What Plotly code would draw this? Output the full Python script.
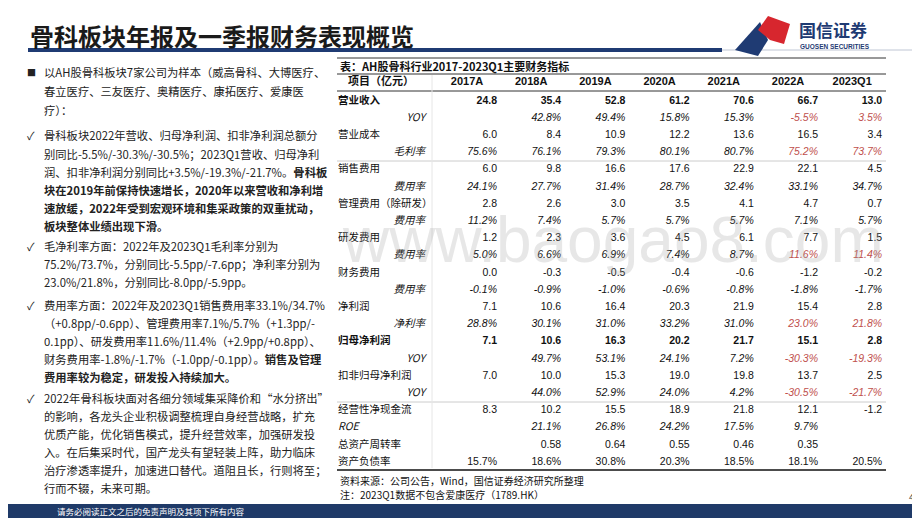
import plotly.graph_objects as go

W, H = 920, 518
OFF = 8  # the page body margin of the html file
FONT = "Liberation Sans, Arial, Noto Sans CJK SC"
CJK = "Noto Sans CJK SC, Liberation Sans"
RED = "#c0504d"
NAVY = "#1f3b73"

# table data
years = ["2017A", "2018A", "2019A", "2020A", "2021A", "2022A", "2023Q1"]
row_labels = ["营业收入", "YOY", "营业成本", "毛利率", "销售费用", "费用率", "管理费用（除研发）", "费用率",
              "研发费用", "费用率", "财务费用", "费用率", "净利润", "净利率", "归母净利润", "YOY",
              "扣非归母净利润", "YOY", "经营性净现金流", "ROE", "总资产周转率", "资产负债率"]
row_values = [
    ["24.8", "35.4", "52.8", "61.2", "70.6", "66.7", "13.0"],
    ["", "42.8%", "49.4%", "15.8%", "15.3%", "-5.5%", "3.5%"],
    ["6.0", "8.4", "10.9", "12.2", "13.6", "16.5", "3.4"],
    ["75.6%", "76.1%", "79.3%", "80.1%", "80.7%", "75.2%", "73.7%"],
    ["6.0", "9.8", "16.6", "17.6", "22.9", "22.1", "4.5"],
    ["24.1%", "27.7%", "31.4%", "28.7%", "32.4%", "33.1%", "34.7%"],
    ["2.8", "2.6", "3.0", "3.5", "4.1", "4.7", "0.7"],
    ["11.2%", "7.4%", "5.7%", "5.7%", "5.7%", "7.1%", "5.7%"],
    ["1.2", "2.3", "3.6", "4.5", "6.1", "7.7", "1.5"],
    ["5.0%", "6.6%", "6.9%", "7.4%", "8.7%", "11.6%", "11.4%"],
    ["0.0", "-0.3", "-0.5", "-0.4", "-0.6", "-1.2", "-0.2"],
    ["-0.1%", "-0.9%", "-1.0%", "-0.6%", "-0.8%", "-1.8%", "-1.7%"],
    ["7.1", "10.6", "16.4", "20.3", "21.9", "15.4", "2.8"],
    ["28.8%", "30.1%", "31.0%", "33.2%", "31.0%", "23.0%", "21.8%"],
    ["7.1", "10.6", "16.3", "20.2", "21.7", "15.1", "2.8"],
    ["", "49.7%", "53.1%", "24.1%", "7.2%", "-30.3%", "-19.3%"],
    ["7.0", "10.0", "15.3", "19.0", "19.8", "13.7", "2.5"],
    ["", "44.0%", "52.9%", "24.0%", "4.2%", "-30.5%", "-21.7%"],
    ["8.3", "10.2", "15.5", "18.9", "21.8", "12.1", "-1.2"],
    ["", "21.1%", "26.8%", "24.2%", "17.5%", "9.7%", ""],
    ["", "0.58", "0.64", "0.55", "0.46", "0.35", ""],
    ["15.7%", "18.6%", "30.8%", "20.3%", "18.5%", "18.1%", "20.5%"],
]
bold_rows = [0, 14]
sub_rows = [1, 3, 5, 7, 9, 11, 13, 15, 17]
red_rows = [1, 3, 9, 13, 15, 17]
italic_rows = sub_rows + [19]

# left text lines: (y pixel, text, bullet)
left_lines = [
    (72, "以AH股骨科板块7家公司为样本（威高骨科、大博医疗、", "■"),
    (91, "春立医疗、三友医疗、奥精医疗、康拓医疗、爱康医", ""),
    (110, "疗）：", ""),
    (135, "骨科板块2022年营收、归母净利润、扣非净利润总额分", "✓"),
    (154, "别同比-5.5%/-30.3%/-30.5%；2023Q1营收、归母净利", ""),
    (172, "润、扣非净利润分别同比+3.5%/-19.3%/-21.7%。<b>骨科板</b>", ""),
    (190, "<b>块在2019年前保持快速增长，2020年以来营收和净利增</b>", ""),
    (208, "<b>速放缓，2022年受到宏观环境和集采政策的双重扰动，</b>", ""),
    (226, "<b>板块整体业绩出现下滑。</b>", ""),
    (246, "毛净利率方面：2022年及2023Q1毛利率分别为", "✓"),
    (264, "75.2%/73.7%，分别同比-5.5pp/-7.6pp；净利率分别为", ""),
    (282, "23.0%/21.8%，分别同比-8.0pp/-5.9pp。", ""),
    (305, "费用率方面：2022年及2023Q1销售费用率33.1%/34.7%", "✓"),
    (323, "（+0.8pp/-0.6pp）、管理费用率7.1%/5.7%（+1.3pp/-", ""),
    (341, "0.1pp）、研发费用率11.6%/11.4%（+2.9pp/+0.8pp）、", ""),
    (359, "财务费用率-1.8%/-1.7%（-1.0pp/-0.1pp）。<b>销售及管理</b>", ""),
    (377, "<b>费用率较为稳定，研发投入持续加大。</b>", ""),
    (398, "2022年骨科板块面对各细分领域集采降价和“水分挤出”", "✓"),
    (416, "的影响，各龙头企业积极调整梳理自身经营战略，扩充", ""),
    (434, "优质产能，优化销售模式，提升经营效率，加强研发投", ""),
    (452, "入。在后集采时代，国产龙头有望轻装上阵，助力临床", ""),
    (470, "治疗渗透率提升，加速进口替代。道阻且长，行则将至；", ""),
    (488, "行而不辍，未来可期。", ""),
]

FW, FH = W - OFF, H - OFF


def px(x):
    return (x - OFF) / FW


def py(y):
    return 1 - (y - OFF) / FH


# table geometry (axis units = pixels from table left edge 337)
T_LEFT, T_RIGHT = 337, 912
TABLE_END = 886
ROW0, ROW_H = 101, 17.2
Y_TOP, Y_BOT = 60, 484
LABEL_RIGHT = 88
col_right = [160 + 64.2 * j for j in range(len(years))]


def wrap(v, i):
    if not v:
        return v
    if i in bold_rows:
        return "<b>" + v + "</b>"
    if i in italic_rows:
        return "<i>" + v + "</i>"
    return v


fig = go.Figure()
# header
fig.add_trace(go.Scatter(
    x=[c - 30 for c in col_right], y=[-1.1] * len(years), mode="text",
    text=["<b>" + y + "</b>" for y in years], textposition="middle center",
    textfont=dict(family=FONT, size=11, color="#111111"), hoverinfo="skip"))
fig.add_trace(go.Scatter(
    x=[44], y=[-1.1], mode="text", text=["<b>项目（亿元）</b>"], textposition="middle center",
    textfont=dict(family=CJK, size=11, color="#111111"), hoverinfo="skip"))
# row labels
main_idx = [i for i in range(len(row_labels)) if i not in sub_rows]
fig.add_trace(go.Scatter(
    x=[1] * len(main_idx), y=main_idx, mode="text",
    text=[wrap(row_labels[i], i) for i in main_idx], textposition="middle right",
    textfont=dict(family=CJK, size=10.5, color="#111111"), hoverinfo="skip"))
fig.add_trace(go.Scatter(
    x=[LABEL_RIGHT] * len(sub_rows), y=sub_rows, mode="text",
    text=[wrap(row_labels[i], i) for i in sub_rows], textposition="middle left",
    textfont=dict(family=CJK, size=10.5, color="#111111"), hoverinfo="skip"))
# values
for j in range(len(years)):
    rows = list(range(len(row_values)))
    fig.add_trace(go.Scatter(
        x=[col_right[j]] * len(rows), y=rows, mode="text",
        text=[wrap(row_values[i][j], i) for i in rows], textposition="middle left",
        textfont=dict(family=FONT, size=10.5,
                      color=[RED if (i in red_rows and j >= 5) else "#111111" for i in rows]),
        hoverinfo="skip"))

y_lo = (Y_TOP - ROW0) / ROW_H
y_hi = (Y_BOT - ROW0) / ROW_H
fig.update_xaxes(range=[0, T_RIGHT - T_LEFT], domain=[px(T_LEFT), px(T_RIGHT)], visible=False)
fig.update_yaxes(range=[y_hi, y_lo], domain=[py(Y_BOT), py(Y_TOP)], visible=False)


def hline(y, x0, x1, color, width):
    return dict(type="line", xref="paper", yref="paper", x0=px(x0), x1=px(x1), y0=py(y), y1=py(y),
                line=dict(color=color, width=width))


shapes = [
    hline(50, 28, 722, NAVY, 4),
    hline(50, 722, 912, "#bfc6d4", 1),
    dict(type="rect", xref="paper", yref="paper", x0=0, x1=1, y0=0, y1=py(504),
         fillcolor="#1f3a68", line=dict(width=0)),
    hline(58, 337, TABLE_END, "#333333", 1),
    hline(74, 337, TABLE_END, "#333333", 1),
    hline(91, 337, TABLE_END, "#333333", 1),
    hline(161, 337, TABLE_END, "#cccccc", 1),
    hline(402, 337, TABLE_END, "#cccccc", 1),
    dict(type="line", xref="paper", yref="paper", x0=px(432), x1=px(432), y0=py(75), y1=py(468),
         line=dict(color="#e6e6e6", width=1)),
    hline(470, 337, TABLE_END, "#111111", 1.5),
    # logo
    dict(type="path", xref="paper", yref="paper",
         path="M %f %f L %f %f L %f %f L %f %f Z" % (px(735), py(50), px(760), py(22), px(768), py(40), px(758), py(56)),
         fillcolor=NAVY, line=dict(width=0)),
    dict(type="path", xref="paper", yref="paper",
         path="M %f %f L %f %f L %f %f L %f %f L %f %f Z" % (px(758), py(30), px(768), py(16), px(790), py(24), px(784), py(44), px(770), py(40)),
         fillcolor="#d7262e", line=dict(width=0)),
]

ann = [
    dict(x=px(28), y=py(35), text="<b>骨科板块年报及一季报财务表现概览</b>", xanchor="left", yanchor="middle",
         font=dict(family=CJK, size=24, color="#1a1a1a")),
    dict(x=px(797), y=py(30), text="<b>国信证券</b>", xanchor="left", yanchor="middle",
         font=dict(family=CJK, size=17, color=NAVY)),
    dict(x=px(798), y=py(47), text="<b>GUOSEN SECURITIES</b>", xanchor="left", yanchor="middle",
         font=dict(family=FONT, size=6.5, color=NAVY)),
    dict(x=px(338), y=py(66), text="<b>表：AH股骨科行业2017-2023Q1主要财务指标</b>", xanchor="left", yanchor="middle",
         font=dict(family=CJK, size=11, color="#111111")),
    dict(x=px(338), y=py(480), text="资料来源：公司公告，Wind，国信证券经济研究所整理", xanchor="left", yanchor="middle",
         font=dict(family=CJK, size=10, color="#111111")),
    dict(x=px(338), y=py(494), text="注：2023Q1数据不包含爱康医疗（1789.HK）", xanchor="left", yanchor="middle",
         font=dict(family=CJK, size=10, color="#111111")),
    dict(x=px(916), y=py(497), text="4", xanchor="right", yanchor="middle",
         font=dict(family=FONT, size=9, color="#333333")),
    dict(x=px(55), y=py(511), text="请务必阅读正文之后的免责声明及其项下所有内容", xanchor="left", yanchor="middle",
         font=dict(family=CJK, size=8.5, color="white")),
    dict(x=px(340), y=py(240), text="www.baogao8.com", xanchor="left", yanchor="middle",
         font=dict(family=FONT, size=64, color="rgba(160,160,160,0.25)")),
]
for y, t, b in left_lines:
    ann.append(dict(x=px(42), y=py(y), text=t, xanchor="left", yanchor="middle",
                    font=dict(family=CJK, size=11.3, color="#222222")))
    if b:
        ann.append(dict(x=px(31), y=py(y), text=b, xanchor="center", yanchor="middle",
                        font=dict(family=CJK, size=9 if b == "■" else 11, color="#222222")))

fig.update_layout(width=FW, height=FH, margin=dict(l=0, r=0, t=0, b=0),
                  paper_bgcolor="white", plot_bgcolor="white",
                  shapes=shapes, annotations=ann, showlegend=False)
for a in fig.layout.annotations:
    a.showarrow = False
    a.xref = "paper"
    a.yref = "paper"

fig.write_html("out.html")
